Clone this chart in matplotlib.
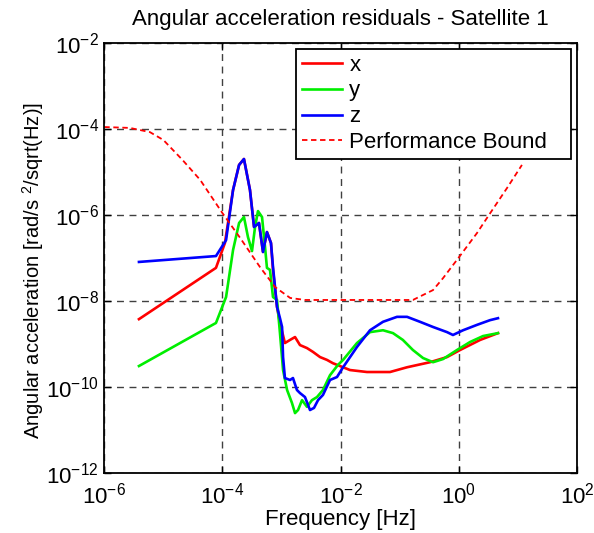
import matplotlib
matplotlib.use("Agg")
import matplotlib.pyplot as plt
from matplotlib.ticker import FuncFormatter, NullLocator
import numpy as np

plt.rcParams['font.family'] = ['Liberation Sans', 'DejaVu Sans']
plt.rcParams['mathtext.fontset'] = 'custom'
plt.rcParams['mathtext.rm'] = 'Liberation Sans'
plt.rcParams['mathtext.it'] = 'Liberation Sans:italic'
plt.rcParams['mathtext.bf'] = 'Liberation Sans:bold'

# x residual (red)
freq_x = [3.86e-6, 7.76e-5, 1.10e-4, 1.51e-4, 1.91e-4, 2.31e-4, 2.92e-4, 3.42e-4,
          4.15e-4, 4.85e-4, 5.66e-4, 6.62e-4, 7.16e-4, 8.38e-4, 9.40e-4, 1.14e-3,
          1.39e-3, 1.69e-3, 2.05e-3, 2.69e-3, 3.40e-3, 4.48e-3, 5.87e-3, 7.41e-3,
          9.75e-3, 1.44e-2, 2.79e-2, 4.63e-2, 6.84e-2, 0.133, 0.325, 0.631,
          1.05, 2.29, 4.60]
acc_x = [3.8e-9, 5.9e-8, 2.23e-7, 3.8e-6, 1.45e-5, 1.99e-5, 3.8e-6, 5.25e-7,
         6.5e-7, 1.38e-7, 4.0e-7, 2.23e-7, 5.3e-8, 7.3e-9, 3.1e-9, 1.06e-9,
         1.25e-9, 1.46e-9, 9.5e-10, 8.1e-10, 6.6e-10, 5.0e-10, 4.3e-10, 3.6e-10,
         3.1e-10, 2.5e-10, 2.25e-10, 2.25e-10, 2.25e-10, 2.9e-10, 3.8e-10, 5.0e-10,
         7.3e-10, 1.25e-9, 1.8e-9]

# y residual (green)
freq_y = [3.86e-6, 7.76e-5, 1.15e-4, 1.51e-4, 1.91e-4, 2.31e-4, 2.70e-4, 3.16e-4,
          3.56e-4, 3.99e-4, 4.67e-4, 5.25e-4, 5.66e-4, 6.37e-4, 7.16e-4, 8.38e-4,
          9.40e-4, 1.06e-3, 1.24e-3, 1.50e-3, 1.69e-3, 1.90e-3, 2.22e-3, 2.69e-3,
          3.27e-3, 3.98e-3, 5.02e-3, 6.61e-3, 9.02e-3, 1.10e-2, 1.89e-2, 3.14e-2,
          5.21e-2, 7.69e-2, 0.113, 0.167, 0.248, 0.366, 0.540, 0.931,
          1.55, 2.57, 4.60]
acc_y = [3.1e-10, 3.1e-9, 1.24e-8, 1.53e-7, 6.5e-7, 8.95e-7, 3.07e-7, 1.45e-7,
         5.25e-7, 1.23e-6, 8.95e-7, 1.8e-7, 5.9e-8, 5.3e-8, 1.24e-8, 1.06e-8,
         1.8e-9, 2.5e-10, 8.6e-11, 4.3e-11, 2.5e-11, 2.95e-11, 5.0e-11, 3.5e-11,
         5.0e-11, 5.9e-11, 8.6e-11, 1.9e-10, 3.3e-10, 4.3e-10, 1.06e-9, 1.9e-9,
         2.1e-9, 1.8e-9, 1.25e-9, 7.3e-10, 4.75e-10, 3.8e-10, 4.5e-10, 7.3e-10,
         1.12e-9, 1.54e-9, 1.8e-9]

# z residual (blue)
freq_z = [3.86e-6, 7.76e-5, 1.15e-4, 1.51e-4, 1.91e-4, 2.31e-4, 2.92e-4, 3.42e-4,
          4.15e-4, 4.85e-4, 5.66e-4, 6.62e-4, 7.16e-4, 8.38e-4, 9.40e-4, 1.02e-3,
          1.06e-3, 1.14e-3, 1.39e-3, 1.56e-3, 1.82e-3, 2.05e-3, 2.49e-3, 3.03e-3,
          3.54e-3, 4.14e-3, 5.02e-3, 6.61e-3, 8.67e-3, 1.10e-2, 1.89e-2, 3.14e-2,
          5.21e-2, 8.99e-2, 0.133, 0.220, 0.366, 0.631, 0.796, 1.18,
          2.03, 3.37, 4.60]
acc_z = [8.1e-8, 1.11e-7, 2.6e-7, 3.8e-6, 1.45e-5, 1.99e-5, 3.8e-6, 5.25e-7,
         6.5e-7, 1.38e-7, 4.0e-7, 2.23e-7, 6.2e-8, 7.3e-9, 4.0e-9, 2.5e-9,
         5.0e-10, 1.63e-10, 1.47e-10, 1.63e-10, 8.6e-11, 7.3e-11, 5.9e-11, 2.95e-11,
         3.3e-11, 5.0e-11, 6.6e-11, 1.47e-10, 1.72e-10, 2.9e-10, 8.6e-10, 2.1e-9,
         3.3e-9, 4.3e-9, 4.3e-9, 3.3e-9, 2.5e-9, 1.9e-9, 1.63e-9, 2.1e-9,
         2.8e-9, 3.6e-9, 4.0e-9]

# performance bound (red dashed)
freq_pb = [1e-6, 2.7e-6, 5.9e-6, 1.0e-5, 2.1e-5, 4.2e-5, 1.0e-4, 2.0e-4,
           4.3e-4, 7.8e-4, 1.4e-3, 2.5e-3, 0.167, 0.366, 0.54, 1.01,
           2.03, 3.24, 6.53, 11.7]
acc_pb = [1.1e-4, 1.05e-4, 8.4e-5, 5.5e-5, 1.9e-5, 6.5e-6, 1.1e-6, 2.9e-7,
          6.2e-8, 2.1e-8, 1.18e-8, 1.06e-8, 1.06e-8, 1.8e-8, 3.4e-8, 1.05e-7,
          3.8e-7, 1.0e-6, 4.2e-6, 1.45e-5]

xticks = [1e-6, 1e-4, 1e-2, 1e0, 1e2]
yticks = [1e-12, 1e-10, 1e-8, 1e-6, 1e-4, 1e-2]

fig = plt.figure(figsize=(5.94, 5.33), dpi=100)
ax = fig.add_axes([104.3 / 594, 1 - 473.3 / 533, (577 - 104.3) / 594, (473.3 - 42.7) / 533])

ax.plot(freq_x, acc_x, color='#ff0000', lw=1.9, label='x')
ax.plot(freq_y, acc_y, color='#00ee00', lw=1.9, label='y')
ax.plot(freq_z, acc_z, color='#0000ff', lw=1.9, label='z')
ax.plot(freq_pb, acc_pb, color='#ff0000', lw=1.3, ls=(0, (3, 2)), label='Performance Bound')

ax.set_xscale('log')
ax.set_yscale('log')
ax.set_xlim(1e-6, 1e2)
ax.set_ylim(1e-12, 1e-2)
ax.set_xticks(xticks)
ax.set_yticks(yticks)
ax.xaxis.set_minor_locator(NullLocator())
ax.yaxis.set_minor_locator(NullLocator())
fmt = FuncFormatter(lambda v, p: r'$10^{%d}$' % int(round(np.log10(v))))
ax.xaxis.set_major_formatter(fmt)
ax.yaxis.set_major_formatter(fmt)

ax.tick_params(which='both', direction='in', top=True, right=True, length=5,
               width=1, labelsize=16, pad=4)
ax.tick_params(axis='x', pad=7)
ax.grid(True, which='major', color='0.25', ls=(0, (5, 4)), lw=1)
for s in ax.spines.values():
    s.set_linewidth(1.3)

ax.set_title('Angular acceleration residuals - Satellite 1', fontsize=16, pad=13)
ax.set_xlabel('Frequency [Hz]', fontsize=16, labelpad=0)
ax.set_ylabel(r'Angular acceleration [rad/s $^2$/sqrt(Hz)]', fontsize=14.5)
ax.yaxis.set_label_coords(-0.123, 0.47)

leg = ax.legend(loc='upper left',
                bbox_to_anchor=(296 / 594, 1 - 157 / 533, 275 / 594, 108 / 533),
                bbox_transform=fig.transFigure, mode='expand', fontsize=16,
                frameon=True, fancybox=False, framealpha=1, edgecolor='black',
                borderaxespad=0, handlelength=1.8, handletextpad=0.35,
                labelspacing=0.22, borderpad=0.25)
leg.get_frame().set_linewidth(1.3)

plt.savefig('out.png', dpi=100)
